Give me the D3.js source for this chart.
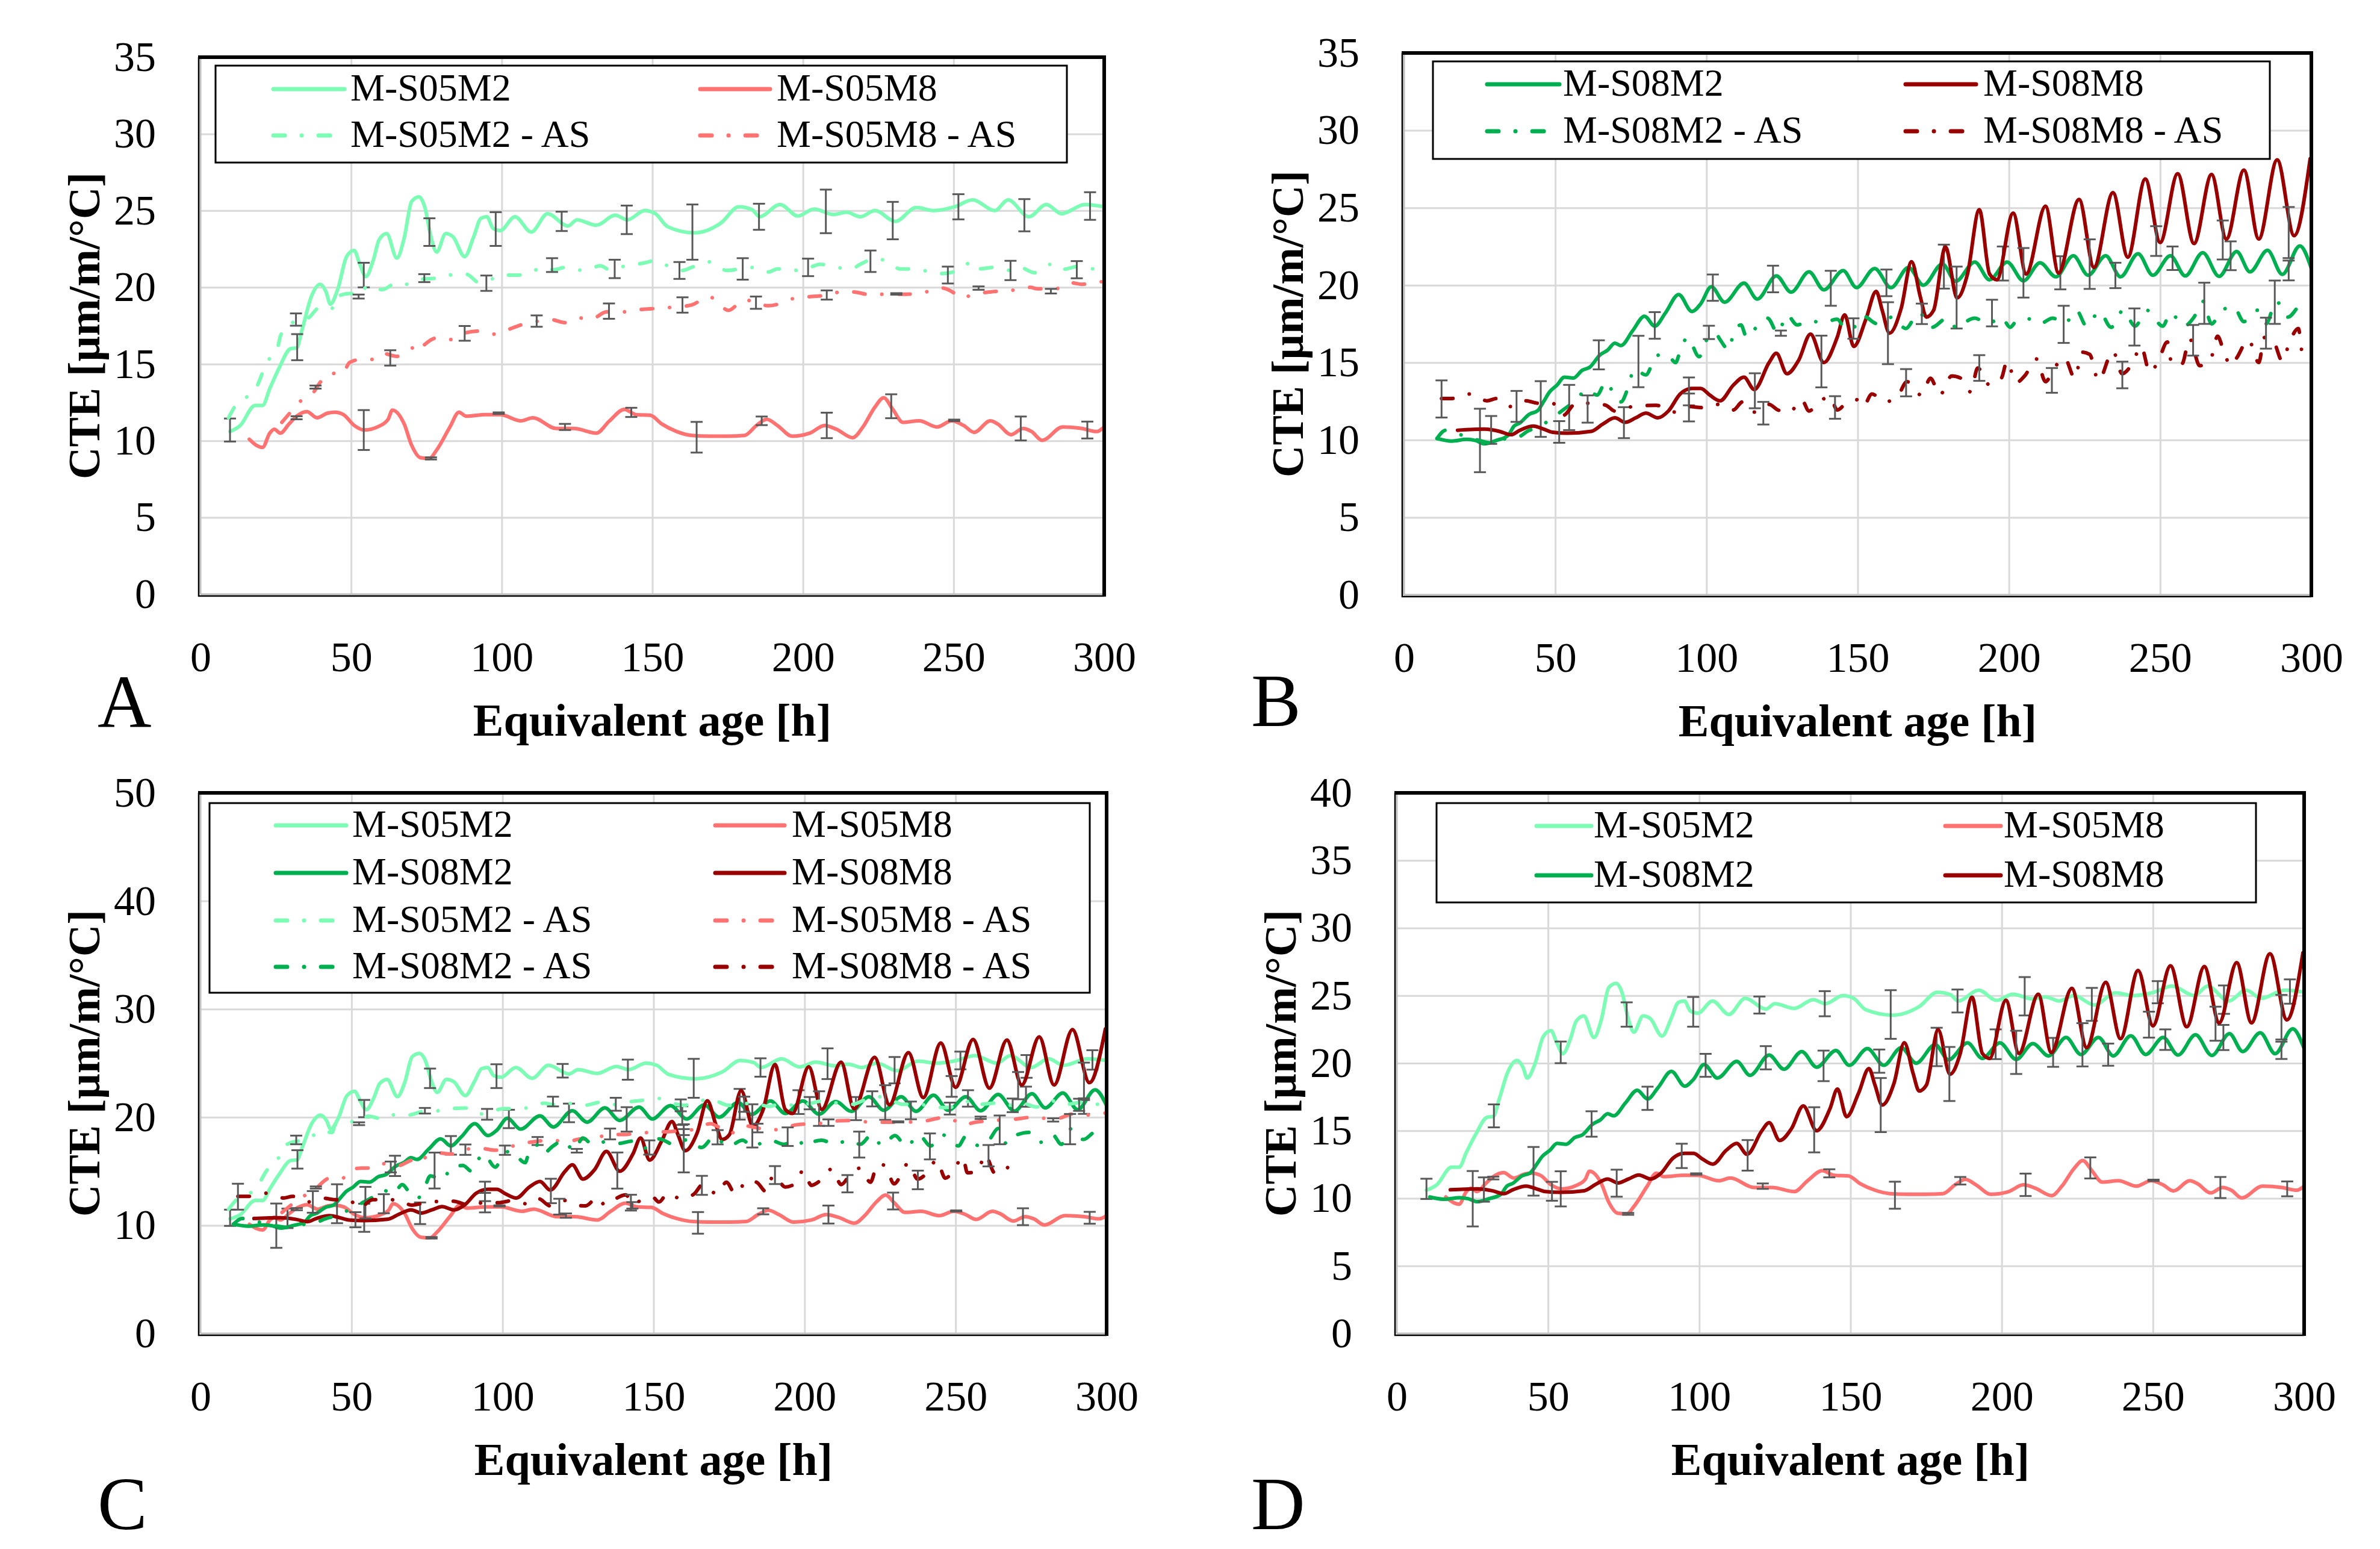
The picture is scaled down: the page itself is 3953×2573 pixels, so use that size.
<!DOCTYPE html>
<html>
<head>
<meta charset="utf-8">
<script src="https://cdn.jsdelivr.net/npm/d3@7"></script>
<style>
  body { margin: 0; background: #fff; }
  text { font-family: "Liberation Serif", "Times New Roman", serif; }
</style>
</head>
<body>
<svg id="chart" width="3953" height="2573"></svg>
<script>
// ---- tick labels ----
const xTicks = [0, 50, 100, 150, 200, 250, 300];
const yTicks35 = [0, 5, 10, 15, 20, 25, 30, 35];
const yTicks50 = [0, 10, 20, 30, 40, 50];
const yTicks40 = [0, 5, 10, 15, 20, 25, 30, 35, 40];

// ---- series values [equivalent age h, CTE] ----
const s05m2 = [[9.8,10.6],[13.2,11.0],[18.1,12.3],[20.6,12.3],[23,13.4],[26,14.7],[29.9,16.0],[31.9,16.05],[33.8,17.3],[36.8,19.4],[39.7,20.2],[41.7,19.7],[43.1,18.9],[45.6,19.9],[48.5,22.0],[51,22.4],[52.9,21.5],[54.9,20.7],[57.4,21.8],[59.3,23.1],[61.8,23.5],[65.2,21.9],[67.6,23.2],[70.1,25.6],[72.5,25.9],[74.5,25.2],[76.5,23.3],[78.4,22.3],[81.4,23.5],[83.8,23.3],[87.7,22.0],[90.7,23.3],[93.1,24.5],[95.1,24.6],[97.1,23.85],[99.5,23.7],[104.4,24.6],[109.8,23.6],[115.2,24.8],[122,24.0],[125,24.4],[131.4,24.05],[137.7,24.7],[141.7,24.4],[147.5,25.0],[151,24.8],[155.1,23.95],[163.9,23.55],[172.8,24.2],[178.7,25.25],[183.1,25.06],[185.6,24.6],[192.4,25.4],[198.3,24.65],[203.7,25.1],[210.1,24.75],[214.5,24.9],[219,24.6],[223.9,25.0],[230.7,24.3],[237.6,25.2],[243.5,25.0],[250.4,25.25],[256.3,25.7],[263.7,25.0],[268.1,25.7],[275,24.6],[280.8,25.4],[285.8,24.8],[293.6,25.4],[300,25.25]];
const s05m8 = [[16.2,10.1],[18.6,9.7],[20.6,9.57],[23,10.5],[24.5,10.75],[26.5,10.5],[29.4,11.1],[31.9,11.6],[35.3,11.9],[38.7,11.5],[42.2,11.8],[44.6,11.86],[47.5,11.7],[51,11.0],[54.4,10.7],[59.3,10.95],[62.3,11.4],[63.7,12.0],[67.6,11.1],[70.1,9.7],[73,8.9],[76,8.85],[78.4,9.4],[82.8,10.9],[85.8,11.86],[88.2,11.6],[94.6,11.7],[99.5,11.7],[106.4,11.3],[110.3,11.5],[118.1,10.8],[124,10.8],[131.4,10.5],[135.8,11.3],[140.7,12.05],[144.6,11.7],[149.3,11.66],[153.1,11.1],[158.1,10.6],[163,10.35],[168.9,10.3],[174.8,10.3],[180.6,10.35],[184.6,11.0],[188,11.4],[191.5,11.0],[196.4,10.3],[202.3,10.5],[207.2,11.0],[211.1,10.75],[216.5,10.2],[219.9,10.9],[223.9,12.2],[226.8,12.8],[229.8,12.05],[233.2,11.2],[238.6,11.3],[244.5,10.9],[249.4,11.3],[253.3,11.0],[256.8,10.55],[262.2,11.3],[264.6,11.1],[269.1,10.4],[273,10.8],[275.9,10.6],[279.4,10.03],[286.2,10.9],[292.6,10.8],[297.5,10.6],[300,10.9]];
const s05m2as = [[9.3,11.5],[11.3,12.2],[18.6,13.5],[22,15.1],[25.5,16.0],[26.5,16.8],[29.4,17.6],[35.8,18.0],[39.7,18.7],[43.6,18.6],[44.6,19.3],[49.5,19.6],[52.9,19.5],[55.4,20.1],[60.3,19.85],[65.2,20.3],[68.6,20.2],[74,20.55],[78.9,20.6],[82.8,20.8],[88.2,20.85],[92.6,20.3],[95.5,20.45],[100.5,20.8],[105.4,20.8],[108.8,20.9],[113.7,21.3],[117.2,21.15],[121.1,21.3],[127,21.1],[132.8,21.4],[135.8,21.15],[141.2,21.4],[147.5,21.6],[151.3,21.75],[155.1,21.4],[160,21.1],[163,21.3],[168.9,21.66],[174.8,21.1],[182.6,21.3],[188.5,21.0],[191.5,21.2],[196.9,21.1],[202.3,21.3],[205.7,21.5],[211.1,21.3],[216,21.2],[219,21.5],[224.4,21.9],[229.3,21.5],[232.2,21.2],[237.6,21.2],[243,20.95],[246.5,20.9],[251.4,21.1],[256.3,21.66],[258.3,21.2],[263.2,21.3],[269.1,21.1],[272,21.3],[276.9,20.95],[282.3,21.5],[285.3,21.15],[292.6,21.4],[296.6,21.2],[300,21.3]];
const s05m8as = [[27,11.2],[29.9,11.86],[33.3,12.6],[37.3,13.1],[39.7,13.8],[43.1,14.4],[47,14.35],[49.5,15.1],[53.4,15.3],[57.4,15.3],[60.3,15.7],[65.2,15.5],[70.6,16.05],[72,15.8],[74,16.2],[78.4,16.7],[83.3,16.6],[86.8,16.95],[92.2,17.15],[97.5,16.95],[101.5,17.2],[106.4,17.55],[112.3,17.8],[116.2,17.9],[121.1,17.7],[126,18.0],[129.9,17.95],[134.8,18.4],[140.7,18.4],[143.6,18.5],[149.3,18.6],[156.6,18.7],[163,18.85],[168.9,19.4],[170.8,19.2],[175.2,18.5],[180.6,19.2],[183.6,19.05],[188.5,18.8],[193.4,19.0],[197.3,19.3],[202.8,19.4],[208.2,19.5],[210.6,19.66],[216.5,19.7],[222.9,19.5],[226.8,19.55],[232.7,19.55],[238.6,19.6],[246,19.96],[250.4,19.6],[252.4,19.3],[256.8,19.55],[262.2,19.7],[269.1,19.8],[275.5,20.0],[277.9,19.9],[283.8,19.9],[288.7,20.3],[292.6,20.2],[298.5,20.35],[300,20.4]];
const s08m2 = [[10.9,10.1],[15.8,9.93],[20.7,10.04],[23.6,9.97],[26.6,9.75],[30.5,9.97],[34.4,10.3],[36.4,10.9],[38.3,11.1],[41.3,11.65],[44.2,11.9],[46.2,12.5],[48.1,13.1],[50.6,13.55],[53,14.06],[56,14.0],[58.9,14.5],[61.4,14.7],[64.8,15.5],[67.3,15.8],[69.7,16.26],[71.7,16.1],[75.6,17.06],[79.5,18.0],[82.9,17.35],[86.4,18.2],[90.8,19.4],[95.2,18.3],[98.1,18.8],[101.6,19.9],[106,18.9],[112.4,20.13],[116.8,19.1],[123.1,20.6],[128,19.55],[133.9,20.86],[138.8,19.7],[145.2,20.94],[149.6,19.84],[155.6,21.08],[161,19.84],[166.8,21.15],[171.7,20.0],[178,21.37],[182.4,20.25],[188.7,21.5],[193.6,20.35],[199.4,21.5],[204.8,20.28],[210.3,21.45],[215.5,20.54],[221.3,21.9],[226.2,20.64],[232,21.9],[236.9,20.54],[242.7,22.03],[247.6,20.64],[253.4,21.9],[258.3,20.6],[264.1,22.1],[269.5,20.57],[275.3,22.18],[279.7,20.86],[285.5,22.25],[290.4,20.7],[296.2,22.54],[300,21.08]];
const s08m8 = [[17.7,10.63],[26.6,10.7],[31.5,10.56],[35.4,10.34],[38.3,10.63],[42.7,10.9],[46.2,10.7],[49.1,10.5],[54,10.44],[61.9,10.56],[65.8,11.04],[69.7,11.43],[73.1,11.14],[76.6,11.43],[80,11.73],[83.9,11.43],[87.4,11.87],[91.3,12.97],[95.2,13.33],[98.1,13.33],[101.1,12.9],[104.5,12.53],[108.9,13.55],[112.4,14.06],[115.8,13.26],[120.7,15.0],[123.1,15.6],[126.6,14.28],[130.5,15.16],[134.4,16.84],[138.8,15.0],[143.2,16.62],[145.7,18.08],[148.7,16.04],[152.7,17.8],[156.1,19.6],[158.1,18.38],[160.5,16.9],[164.4,18.52],[167.8,21.52],[170.7,19.25],[172.7,17.94],[175.1,18.38],[179,22.47],[182.9,19.18],[186.3,20.72],[190.2,24.88],[193.6,20.72],[196,20.35],[201.4,24.66],[205.7,20.72],[212.1,25.1],[216.4,20.79],[223.2,25.54],[228.1,21.15],[234.4,25.98],[239.3,21.81],[245.1,26.86],[250,22.76],[255.8,27.2],[261.2,22.69],[267,27.15],[271.9,22.98],[277.7,27.44],[282.6,22.98],[288.7,28.1],[294.3,23.2],[299.6,28.17]];
const s08m2as = [[10.9,10.1],[13.8,10.63],[18.7,10.34],[23.6,10.04],[28.5,9.82],[32.5,10.04],[37.8,10.19],[40.8,10.56],[45.2,10.92],[49.6,11.5],[53,12.0],[57,12.6],[60.4,13.26],[63.8,12.9],[66.8,13.77],[69.7,12.82],[71.7,12.46],[74.1,13.4],[76.1,14.58],[80,14.2],[83.4,15.45],[86.9,15.53],[89.8,15.0],[91.3,15.75],[93.7,16.62],[97.6,15.38],[100.1,16.48],[103,16.9],[104.5,16.48],[107.5,15.8],[108.9,16.9],[111.4,17.43],[113.3,16.62],[116.8,17.35],[120.2,17.87],[123.6,16.9],[126.6,18.08],[130,17.43],[133.9,17.72],[138.3,17.57],[143.2,17.8],[146.2,17.13],[149.6,17.4],[151.8,18.0],[156.6,17.5],[161.5,17.94],[165.9,17.2],[170.2,18.23],[174.6,17.28],[179.5,17.87],[182.9,17.2],[184.8,17.5],[188.7,17.87],[193.1,17.5],[197.5,17.94],[200.4,17.28],[202.3,17.65],[205.7,17.87],[210.1,17.5],[214.5,17.87],[218.4,17.5],[222.3,18.38],[225.7,17.35],[229.9,18.3],[233.8,17.28],[237.8,18.38],[241.7,17.35],[245.6,18.38],[250.9,17.35],[253.4,18.23],[257.8,17.35],[261.2,17.94],[264.1,18.96],[267,17.5],[270.4,18.38],[274.3,18.6],[277.7,17.65],[282.1,18.38],[285,17.5],[288.4,18.96],[292.3,17.94],[295.7,18.6],[299.1,19.1]];
const s08m8as = [[12.4,12.68],[15.8,12.68],[21.7,12.97],[27.5,12.53],[30.5,12.68],[35.4,12.16],[40.3,12.53],[44.2,12.38],[49.1,12.38],[52.5,11.58],[57,12.38],[61.9,12.38],[66.8,12.24],[69.7,11.87],[75.6,12.16],[83.4,12.24],[89.8,11.8],[94.2,12.16],[98.6,12.09],[103.5,12.3],[108.9,11.94],[111.9,12.46],[115.8,11.8],[120.7,12.3],[123.6,11.94],[127.5,11.8],[131.5,12.6],[133.9,11.87],[136.9,12.38],[140.8,12.82],[143.2,11.94],[146.2,12.38],[149.7,12.6],[151.8,12.16],[154.7,12.97],[159,12.46],[163.4,12.9],[166.3,13.77],[171,12.9],[174.1,13.99],[177.1,12.9],[181.1,14.14],[184.1,13.99],[187.3,13.11],[189.7,14.65],[193.6,13.55],[197.5,13.99],[199.4,15.09],[202.3,13.7],[205.2,14.14],[209.1,15.23],[212.1,13.77],[215,14.65],[218.4,15.3],[221.8,13.99],[224.2,15.67],[226.7,15.53],[229.6,13.84],[234.4,15.74],[237.4,14.28],[240.8,14.94],[243.7,16.04],[246.6,14.36],[249.5,15.16],[252.4,16.33],[253.9,14.87],[257.3,14.94],[259.7,16.55],[263.1,14.8],[266.5,15.09],[269,16.7],[270.9,15.82],[273.3,14.8],[275.3,15.3],[279.2,16.48],[282.6,15.01],[284.5,16.62],[287.4,16.4],[290.4,15.09],[292.8,16.33],[295.7,17.2],[297.2,15.45],[300,15.6]];

// ---- error bars [age, mean, half range] ----
const s05m2Err = [[9.8,10.7,0.75],[32.1,16.1,0.85],[54.2,20.8,0.8],[76,23.6,0.9],[98,23.8,1.1],[119.9,24.3,0.63],[141.5,24.4,0.93],[163.3,23.6,1.8],[185.4,24.6,0.85],[207.6,24.95,1.42],[229.8,24.35,1.22],[251.6,25.25,0.82],[273.5,24.7,1.05],[295.3,25.3,0.9]];
const s05m8Err = [[31.9,11.5,0.1],[54.2,10.7,1.3],[76.5,8.85,0.07],[99,11.8,0.05],[121,10.9,0.2],[143,11.85,0.3],[164.7,10.23,1.0],[186.3,11.3,0.28],[207.9,11.0,0.83],[229.3,12.25,0.78],[250.2,11.33,0.05],[272.3,10.8,0.78],[294.4,10.7,0.55]];
const s05m2asErr = [[31.7,17.9,0.4],[52.5,19.4,0.13],[74.3,20.6,0.26],[94.9,20.27,0.5],[116.7,21.45,0.45],[137.5,21.2,0.6],[159,21.1,0.55],[180,21.2,0.7],[201.7,21.3,0.57],[222.4,21.7,0.7],[248.1,20.8,0.55],[268.9,21.1,0.63],[290.9,21.15,0.56]];
const s05m8asErr = [[38.2,13.5,0.1],[63,15.4,0.5],[87.7,17.0,0.48],[111.6,17.8,0.37],[135.6,18.45,0.5],[160,18.85,0.5],[184.4,19.0,0.4],[207.9,19.5,0.3],[231,19.57,0.05],[258.3,19.95,0.11],[282.3,19.75,0.15]];
const s08m2Err = [[25.1,9.97,2.05],[45.2,12.0,1.8],[64.4,15.5,0.94],[82.9,17.4,0.86],[102.1,19.84,0.85],[122,20.4,0.86],[141.1,19.8,1.13],[159.5,20.15,0.86],[178.5,21.2,1.42],[198,21.4,1.1],[217,20.8,1.07],[235.2,20.63,0.82],[254.1,21.74,0.76],[273.3,21.9,0.93],[292.5,20.95,0.64]];
const s08m8Err = [[28.8,10.65,0.9],[51.3,10.52,0.7],[72.7,11.12,1.0],[94.2,13.14,0.9],[116,13.18,1.13],[138,15.07,1.67],[160,16.9,2.0],[182.7,19.2,2.0],[204.8,20.8,1.6],[226.7,21.36,1.6],[248.7,22.85,0.96],[270.7,22.92,1.26],[292.5,23.4,1.65]];
const s08m2asErr = [[54.6,12.1,1.46],[77.5,15.07,1.66],[100.8,16.95,0.43],[124.6,16.9,0.17],[148.6,17.2,0.66],[171.2,18.15,0.66],[194.4,18.2,0.86],[218.1,17.47,1.2],[241.5,17.3,1.2],[264.6,18.83,1.33],[287.9,18.9,1.4]];
const s08m8asErr = [[12.4,12.65,1.2],[37.2,12.17,1.0],[60.7,12.0,0.88],[94.2,12.1,0.9],[118.8,11.73,0.73],[142.5,12.1,0.73],[166,13.7,0.88],[190.2,14.65,0.83],[214.2,13.85,0.8],[237.5,14.2,0.86],[260.9,16.44,0.99],[285,16.9,1.0]];

const DASHDOT = "19,28,0.1,28";
const series = {
  s05m2:   { label: "M-S05M2",      data: s05m2,   err: s05m2Err,   color: "#7dfcb5", dash: null },
  s05m8:   { label: "M-S05M8",      data: s05m8,   err: s05m8Err,   color: "#ff7272", dash: null },
  s08m2:   { label: "M-S08M2",      data: s08m2,   err: s08m2Err,   color: "#00b050", dash: null },
  s08m8:   { label: "M-S08M8",      data: s08m8,   err: s08m8Err,   color: "#990000", dash: null },
  s05m2as: { label: "M-S05M2 - AS", data: s05m2as, err: s05m2asErr, color: "#7dfcb5", dash: DASHDOT },
  s05m8as: { label: "M-S05M8 - AS", data: s05m8as, err: s05m8asErr, color: "#ff7272", dash: DASHDOT },
  s08m2as: { label: "M-S08M2 - AS", data: s08m2as, err: s08m2asErr, color: "#00b050", dash: DASHDOT },
  s08m8as: { label: "M-S08M8 - AS", data: s08m8as, err: s08m8asErr, color: "#990000", dash: DASHDOT }
};

const panels = [
  { letter: "A", lx: 162, ly: 1208, box: [333, 95, 1834, 987], yTicks: yTicks35,
    keys: ["s05m2", "s05m8", "s05m2as", "s05m8as"],
    legend: { box: [358, 109, 1772, 270], cols: [[454, 572, 582], [1163, 1279, 1290]], rows: [167, 244] } },
  { letter: "B", lx: 2078, ly: 1206, box: [2332, 88, 3839, 988], yTicks: yTicks35,
    keys: ["s08m2", "s08m8", "s08m2as", "s08m8as"],
    legend: { box: [2380, 102, 3770, 264], cols: [[2470, 2590, 2596], [3165, 3282, 3294]], rows: [159, 237] } },
  { letter: "C", lx: 162, ly: 2540, box: [333, 1317, 1838, 2215], yTicks: yTicks50,
    keys: ["s05m2", "s05m8", "s08m2", "s08m8", "s05m2as", "s05m8as", "s08m2as", "s08m8as"],
    cut: { s08m8as: 270 },
    legend: { box: [348, 1334, 1810, 1649], cols: [[458, 575, 585], [1188, 1303, 1315]], rows: [1390, 1469, 1548, 1625] } },
  { letter: "D", lx: 2078, ly: 2540, box: [2320, 1317, 3827, 2215], yTicks: yTicks40,
    keys: ["s05m2", "s05m8", "s08m2", "s08m8"],
    legend: { box: [2386, 1334, 3747, 1499], cols: [[2552, 2643, 2647], [3231, 3323, 3328]], rows: [1391, 1473] } }
];

const svg = d3.select("#chart");
svg.append("rect").attr("width", 3953).attr("height", 2573).attr("fill", "#fff");

function drawPanel(p) {
  const [x0, y0, x1, y1] = p.box;
  const x = d3.scaleLinear().domain([0, 300]).range([x0, x1]);
  const y = d3.scaleLinear().domain([0, d3.max(p.yTicks)]).range([y1, y0]);
  const g = svg.append("g");

  // grid
  g.append("g").attr("transform", `translate(${x0},0)`)
    .call(d3.axisLeft(y).tickValues(p.yTicks.slice(1)).tickSize(-(x1 - x0)).tickFormat(""))
    .call(a => a.select(".domain").remove())
    .selectAll("line").attr("stroke", "#d9d9d9").attr("stroke-width", 3);
  g.append("g").attr("transform", `translate(0,${y1})`)
    .call(d3.axisBottom(x).tickValues(xTicks.slice(1, -1)).tickSize(-(y1 - y0)).tickFormat(""))
    .call(a => a.select(".domain").remove())
    .selectAll("line").attr("stroke", "#d9d9d9").attr("stroke-width", 3);

  // tick labels
  const yl = g.append("g").attr("transform", `translate(${x0},0)`)
    .call(d3.axisLeft(y).tickValues(p.yTicks).tickSize(0).tickPadding(74));
  yl.select(".domain").remove();
  yl.selectAll("text").attr("font-family", "Liberation Serif").attr("font-size", 70).attr("fill", "#000");
  const xl = g.append("g").attr("transform", `translate(0,${y1})`)
    .call(d3.axisBottom(x).tickValues(xTicks).tickSize(0).tickPadding(78));
  xl.select(".domain").remove();
  xl.selectAll("text").attr("font-family", "Liberation Serif").attr("font-size", 70).attr("fill", "#000");

  // axis lines
  g.append("line").attr("x1", x0).attr("x2", x0).attr("y1", y0).attr("y2", y1)
    .attr("stroke", "#bfbfbf").attr("stroke-width", 3);
  g.append("line").attr("x1", x0).attr("x2", x1).attr("y1", y1).attr("y2", y1)
    .attr("stroke", "#bfbfbf").attr("stroke-width", 3);

  const line = d3.line().x(d => x(d[0])).y(d => y(d[1])).curve(d3.curveMonotoneX);
  p.keys.forEach(k => {
    const s = series[k];
    const lim = (p.cut && p.cut[k]) || 300;
    const pts = s.data.filter(d => d[0] <= lim);
    const path = g.append("path").datum(pts).attr("d", line)
      .attr("fill", "none").attr("stroke", s.color).attr("stroke-width", 6)
      .attr("stroke-linecap", "round").attr("stroke-linejoin", "round");
    if (s.dash) path.attr("stroke-dasharray", s.dash);
    const eb = g.append("g").attr("stroke", "#595959").attr("stroke-width", 3);
    s.err.filter(d => d[0] <= lim).forEach(d => {
      const cx = x(d[0]), ya = y(d[1] + d[2]), yb = y(d[1] - d[2]);
      eb.append("line").attr("x1", cx).attr("x2", cx).attr("y1", ya).attr("y2", yb);
      eb.append("line").attr("x1", cx - 10).attr("x2", cx + 10).attr("y1", ya).attr("y2", ya);
      eb.append("line").attr("x1", cx - 10).attr("x2", cx + 10).attr("y1", yb).attr("y2", yb);
    });
  });

  // frame
  g.append("path")
    .attr("d", `M${x0 - 3},${y0} L${x0 - 3},${y1 + 3} L${x1},${y1 + 3}`)
    .attr("fill", "none").attr("stroke", "#000").attr("stroke-width", 2.5);
  g.append("path")
    .attr("d", `M${x0 - 4},${y0} L${x1},${y0} L${x1},${y1 + 4}`)
    .attr("fill", "none").attr("stroke", "#000").attr("stroke-width", 6);

  // legend
  const L = p.legend;
  g.append("rect").attr("x", L.box[0]).attr("y", L.box[1])
    .attr("width", L.box[2] - L.box[0]).attr("height", L.box[3] - L.box[1])
    .attr("fill", "#fff").attr("stroke", "#000").attr("stroke-width", 3);
  p.keys.forEach((k, i) => {
    const s = series[k];
    const c = L.cols[i % 2], r = L.rows[Math.floor(i / 2)];
    const ln = g.append("line").attr("x1", c[0]).attr("x2", c[1]).attr("y1", r - 19).attr("y2", r - 19)
      .attr("stroke", s.color).attr("stroke-width", 7).attr("stroke-linecap", "round");
    if (s.dash) ln.attr("stroke-dasharray", s.dash);
    g.append("text").attr("x", c[2]).attr("y", r).attr("font-size", 64).text(s.label);
  });

  // axis titles
  g.append("text").attr("x", (x0 + x1) / 2).attr("y", y1 + 235)
    .attr("text-anchor", "middle").attr("font-weight", "bold").attr("font-size", 76)
    .text("Equivalent age [h]");
  const tx = x0 - 168, ty = (y0 + y1) / 2;
  g.append("text").attr("transform", `translate(${tx},${ty}) rotate(-90)`)
    .attr("text-anchor", "middle").attr("font-weight", "bold").attr("font-size", 74)
    .text("CTE [µm/m/°C]");

  // panel letter
  g.append("text").attr("x", p.lx).attr("y", p.ly).attr("font-size", 124).text(p.letter);
}

panels.forEach(drawPanel);
</script>
</body>
</html>
